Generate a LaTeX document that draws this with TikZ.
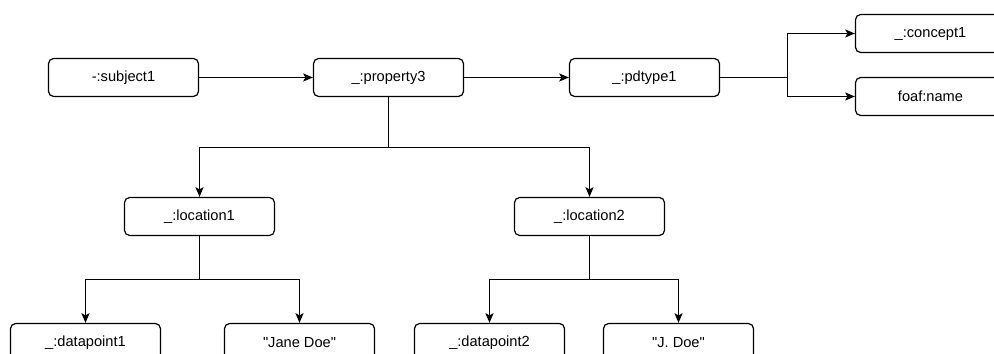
\documentclass[tikz,border=0pt]{standalone}
\usepackage{fontspec}
\setmainfont{Liberation Sans}
\usetikzlibrary{arrows.meta}
\tikzset{
  term/.style = {draw, rounded corners=0.13cm, line width=0.03cm,
                 minimum width=3.75cm, minimum height=0.95cm,
                 inner sep=0pt, font=\fontsize{10.4}{12}\selectfont},
  wire/.style = {line width=0.03cm},
  link/.style = {wire, -{Stealth[length=0.24cm,width=0.2cm,inset=0.05cm]}}
         }

\begin{document}
\begin{tikzpicture}[x=0.025cm,y=-0.025cm]
    \useasboundingbox (0,0) rectangle (994,354);
    % Top row of terms
    \node[term] (subject1) at (123.5,77.5) {-:subject1};
    \node[term] (property3) at (388.5,77.5) {\_:property3};
    \node[term] (pdtype1) at (644.5,77.5) {\_:pdtype1};
    % Types of pdtype1
    \node[term] (concept1) at (930.5,33.5) {\_:concept1};
    \node[term] (foafname) at (930.5,96.5) {foaf:name};
    % Locations
    \node[term] (location1) at (199.5,216.5) {\_:location1};
    \node[term] (location2) at (589.5,216.5) {\_:location2};
    % Bottom row (cut by the page edge)
    \node[term] (datapoint1) at (85.5,342.5) {\_:datapoint1};
    \node[term] (janedoe) at (299.5,342.5) {\textquotedbl Jane Doe\textquotedbl};
    \node[term] (datapoint2) at (489.5,342.5) {\_:datapoint2};
    \node[term] (jdoe) at (678.5,342.5) {\textquotedbl J. Doe\textquotedbl};
    % Branch points of the elbow connectors
    \coordinate (typefork) at (787.5,77.5);
    \coordinate (propfork) at (388.5,147.5);
    \coordinate (locfork1) at (199.5,279.5);
    \coordinate (locfork2) at (589.5,279.5);
    % Straight links along the top row
    \draw[link] (subject1) -- (property3);
    \draw[link] (property3) -- (pdtype1);
    % pdtype1 splits to two types
    \draw[wire] (pdtype1) -- (typefork);
    \draw[link] (typefork) |- (concept1);
    \draw[link] (typefork) |- (foafname);
    % property3 splits to two locations
    \draw[wire] (property3) -- (propfork);
    \draw[link] (propfork) -| (location1);
    \draw[link] (propfork) -| (location2);
    % Each location splits to two values
    \draw[wire] (location1) -- (locfork1);
    \draw[link] (locfork1) -| (datapoint1);
    \draw[link] (locfork1) -| (janedoe);
    \draw[wire] (location2) -- (locfork2);
    \draw[link] (locfork2) -| (datapoint2);
    \draw[link] (locfork2) -| (jdoe);
\end{tikzpicture}
\end{document}
